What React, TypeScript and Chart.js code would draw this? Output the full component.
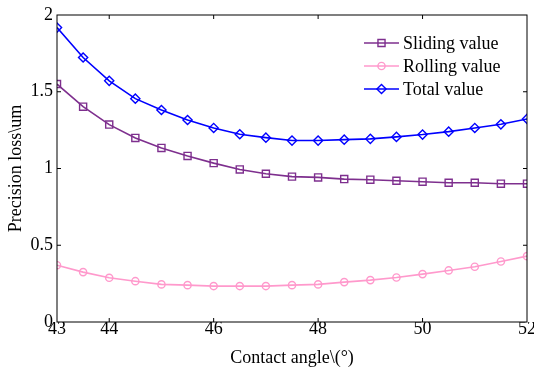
import React, { useEffect, useRef } from "react";
import { Chart, registerables } from "chart.js";

Chart.register(...registerables);

const angles = [43, 43.5, 44, 44.5, 45, 45.5, 46, 46.5, 47, 47.5, 48, 48.5, 49, 49.5, 50, 50.5, 51, 51.5, 52];
const slidingValues = [1.55, 1.403, 1.286, 1.199, 1.134, 1.082, 1.035, 0.994, 0.966, 0.947, 0.942, 0.931, 0.927, 0.92, 0.914, 0.907, 0.907, 0.901, 0.901];
const rollingValues = [0.37, 0.325, 0.288, 0.266, 0.245, 0.24, 0.234, 0.234, 0.234, 0.24, 0.245, 0.26, 0.273, 0.29, 0.312, 0.336, 0.36, 0.394, 0.429];
const totalValues = [1.918, 1.723, 1.571, 1.455, 1.381, 1.316, 1.264, 1.223, 1.201, 1.182, 1.182, 1.188, 1.193, 1.206, 1.221, 1.24, 1.264, 1.288, 1.323];
const xTickValues = [43, 44, 46, 48, 50, 52];
const yTickValues = [0, 0.5, 1, 1.5, 2];
const yTickLabels = ["0", "0.5", "1", "1.5", "2"];
const seriesNames = ["Sliding value", "Rolling value", "Total value"];

const FONT = "'Liberation Serif', 'Times New Roman', serif";
const colors = ["#7E2F8E", "#FF99CC", "#0000FF"];
const styles = ["rect", "circle", "rectRot"];
const radii = [5, 3.6, 4.6];

function drawMarker(ctx: CanvasRenderingContext2D, style: string, x: number, y: number, r: number) {
  ctx.beginPath();
  if (style === "rect") {
    const s = Math.SQRT1_2 * r;
    ctx.rect(x - s, y - s, 2 * s, 2 * s);
  } else if (style === "circle") {
    ctx.arc(x, y, r, 0, Math.PI * 2);
  } else {
    ctx.moveTo(x, y - r);
    ctx.lineTo(x + r, y);
    ctx.lineTo(x, y + r);
    ctx.lineTo(x - r, y);
    ctx.closePath();
  }
  ctx.stroke();
}

const framePlugin = {
  id: "frameTicks",
  afterDraw(chart: any) {
    const { ctx, chartArea } = chart;
    const { left, right, top, bottom } = chartArea;
    const xs = chart.scales.x;
    const ys = chart.scales.y;
    ctx.save();
    ctx.strokeStyle = "#000";
    ctx.lineWidth = 1;
    ctx.strokeRect(left, top, right - left, bottom - top);
    const tl = 4;
    ctx.beginPath();
    xTickValues.forEach((v) => {
      if (v === 43 || v === 52) return;
      const px = xs.getPixelForValue(v);
      ctx.moveTo(px, bottom);
      ctx.lineTo(px, bottom - tl);
      ctx.moveTo(px, top);
      ctx.lineTo(px, top + tl);
    });
    [0.5, 1, 1.5].forEach((v) => {
      const py = ys.getPixelForValue(v);
      ctx.moveTo(left, py);
      ctx.lineTo(left + tl, py);
      ctx.moveTo(right, py);
      ctx.lineTo(right - tl, py);
    });
    ctx.stroke();

    // legend
    const lx0 = 364;
    const lx1 = 399;
    const tx = 403;
    const rows = [43, 66, 89];
    ctx.font = `18px ${FONT}`;
    ctx.textBaseline = "middle";
    ctx.textAlign = "left";
    seriesNames.forEach((name, i) => {
      const y = rows[i];
      ctx.strokeStyle = colors[i];
      ctx.lineWidth = 1.6;
      ctx.beginPath();
      ctx.moveTo(lx0, y);
      ctx.lineTo(lx1, y);
      ctx.stroke();
      ctx.lineWidth = 1.4;
      drawMarker(ctx, styles[i], (lx0 + lx1) / 2, y, radii[i]);
      ctx.fillStyle = "#000";
      ctx.fillText(name, tx, y + 1);
    });
    ctx.restore();
  },
};

export default function App() {
  const ref = useRef<HTMLCanvasElement>(null);
  useEffect(() => {
    if (!ref.current) return;
    const series = [slidingValues, rollingValues, totalValues];
    const chart = new Chart(ref.current, {
      type: "line",
      data: {
        datasets: series.map((vals, i) => ({
          label: seriesNames[i],
          data: angles.map((a, j) => ({ x: a, y: vals[j] })),
          borderColor: colors[i],
          backgroundColor: "transparent",
          borderWidth: 1.6,
          pointStyle: styles[i] as any,
          pointRadius: radii[i],
          pointBorderWidth: 1.4,
          pointBorderColor: colors[i],
          pointBackgroundColor: "transparent",
          tension: 0,
          fill: false,
        })),
      },
      options: {
        animation: false,
        responsive: false,
        maintainAspectRatio: false,
        layout: { padding: { top: 15, right: 7, left: 0, bottom: 0 } },
        plugins: { legend: { display: false }, tooltip: { enabled: false } },
        scales: {
          x: {
            type: "linear",
            min: 43,
            max: 52,
            afterBuildTicks: (scale: any) => {
              scale.ticks = xTickValues.map((v) => ({ value: v }));
            },
            afterFit: (scale: any) => {
              scale.height = 47;
            },
            grid: { display: false, drawTicks: false, tickLength: 0 },
            border: { display: false },
            ticks: {
              color: "#000",
              font: { family: FONT, size: 18 },
              padding: -4,
              maxRotation: 0,
              autoSkip: false,
            },
            title: {
              display: true,
              text: "Contact angle\\(°)",
              color: "#000",
              font: { family: FONT, size: 18 },
              padding: { top: 0, bottom: 0 },
            },
          },
          y: {
            type: "linear",
            min: 0,
            max: 2,
            afterBuildTicks: (scale: any) => {
              scale.ticks = yTickValues.map((v) => ({ value: v }));
            },
            afterFit: (scale: any) => {
              scale.width = 57;
            },
            grid: { display: false, drawTicks: false, tickLength: 0 },
            border: { display: false },
            ticks: {
              color: "#000",
              font: { family: FONT, size: 18 },
              padding: 4,
              callback: (_v: any, idx: number) => yTickLabels[idx],
            },
            title: {
              display: true,
              text: "Precision loss\\um",
              color: "#000",
              font: { family: FONT, size: 18 },
              padding: { top: 5, bottom: 0 },
            },
          },
        },
      },
      plugins: [framePlugin],
    });
    return () => chart.destroy();
  }, []);
  return (
    <div style={{ position: "fixed", left: 0, top: 0, width: 534, height: 369, background: "#fff" }}>
      <canvas ref={ref} width={534} height={369} />
    </div>
  );
}
